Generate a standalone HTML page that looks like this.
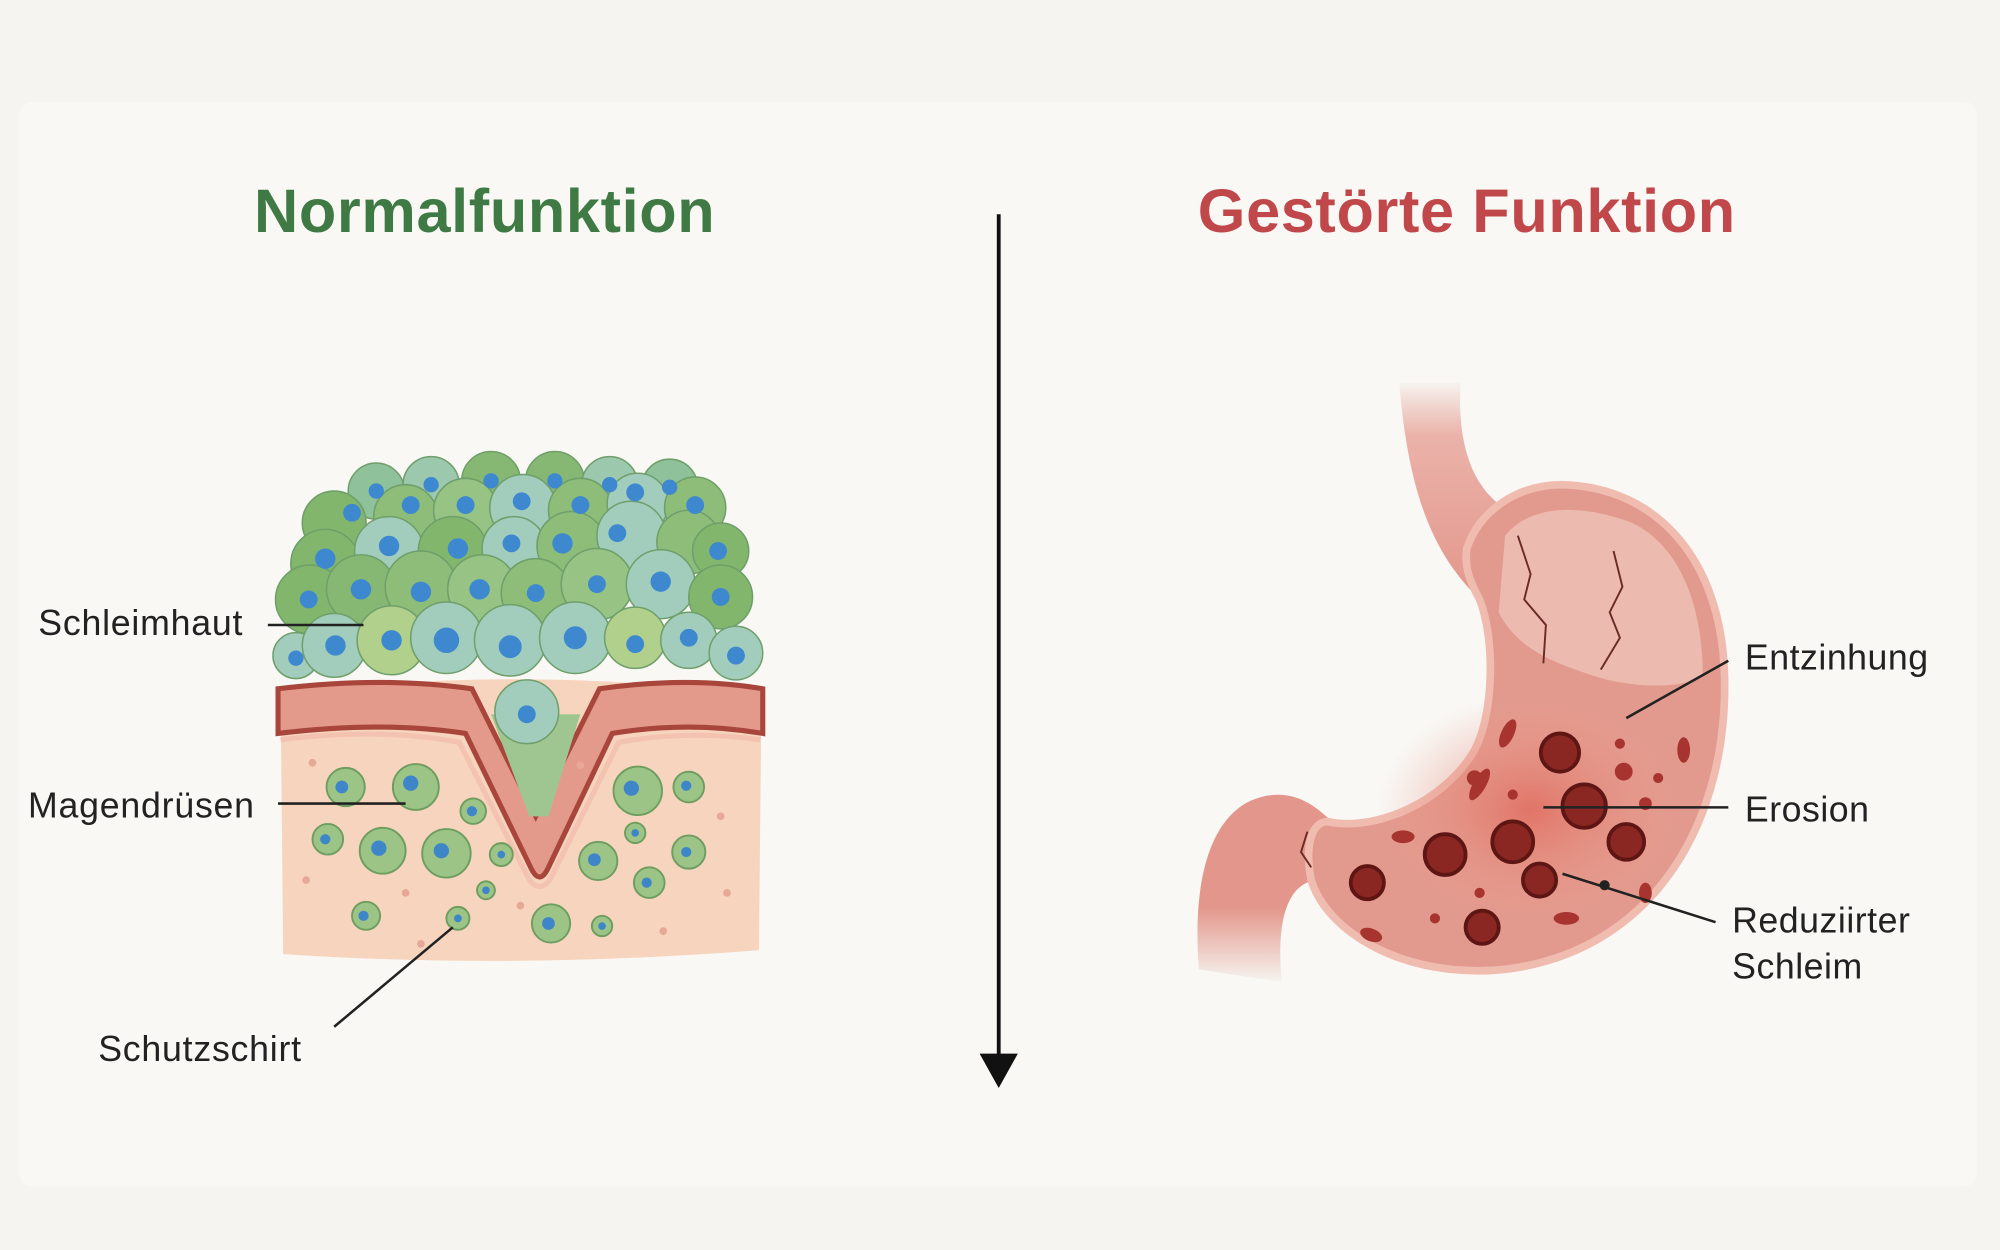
<!DOCTYPE html>
<html><head><meta charset="utf-8"><style>
html,body{margin:0;padding:0;background:#f6f4f0;}
svg{display:block;}
text{font-family:"Liberation Sans",sans-serif;}
</style></head><body>
<svg width="2000" height="1250" viewBox="0 0 1568 980" xmlns="http://www.w3.org/2000/svg">
<defs>
<radialGradient id="inf" cx="0.5" cy="0.5" r="0.5"><stop offset="0" stop-color="#e0675a" stop-opacity="0.75"/><stop offset="1" stop-color="#e8a08e" stop-opacity="0"/></radialGradient>
<linearGradient id="eso" x1="0" y1="0" x2="0" y2="1"><stop offset="0" stop-color="#f6f4f0"/><stop offset="0.25" stop-color="#e9aaa0" stop-opacity="0.9"/><stop offset="1" stop-color="#e3968b"/></linearGradient>
<linearGradient id="duo" x1="0" y1="0" x2="0" y2="1"><stop offset="0.6" stop-color="#e3968b"/><stop offset="1" stop-color="#f6f4f0"/></linearGradient>
</defs>
<rect width="1568" height="980" fill="#f6f4f0"/>
<rect x="15" y="80" width="1535" height="850" rx="10" fill="#f9f8f5"/>

<text x="380" y="182" text-anchor="middle" font-size="48" font-weight="bold" fill="#3f7a45" letter-spacing="0.5">Normalfunktion</text>
<text x="1150" y="182" text-anchor="middle" font-size="48" font-weight="bold" fill="#c0474a" letter-spacing="0.5">Gestörte Funktion</text>

<line x1="783" y1="168" x2="783" y2="830" stroke="#111" stroke-width="3"/>
<polygon points="768,826 798,826 783,853" fill="#111"/>

<!-- left tissue -->
<path d="M220,545 Q400,520 597,545 L595,745 Q400,760 222,748 Z" fill="#f7d4bd"/>
<path d="M218,540 Q300,530 370,540 L420,640 L470,540 Q540,530 598,540 L598,575 Q540,565 480,575 L430,680 Q423,695 416,680 L365,575 Q300,565 218,575 Z" fill="#e49a8a" stroke="#a8463c" stroke-width="4"/>
<path d="M220,580 Q300,570 360,582 L415,690 Q423,700 431,690 L485,582 Q540,572 596,580" fill="none" stroke="#f3c2b0" stroke-width="4"/>
<path d="M385,560 L415,640 L430,640 L455,560 Z" fill="#9fc690"/>
<g fill="#9bc486" stroke="#6e9d60" stroke-width="1.5">
<circle cx="271" cy="617" r="15"/><circle cx="326" cy="617" r="18"/><circle cx="371" cy="636" r="10"/><circle cx="500" cy="620" r="19"/><circle cx="540" cy="617" r="12"/>
<circle cx="257" cy="658" r="12"/><circle cx="300" cy="667" r="18"/><circle cx="350" cy="669" r="19"/><circle cx="393" cy="670" r="9"/><circle cx="469" cy="675" r="15"/><circle cx="498" cy="653" r="8"/><circle cx="540" cy="668" r="13"/>
<circle cx="381" cy="698" r="7"/><circle cx="509" cy="692" r="12"/><circle cx="287" cy="718" r="11"/><circle cx="359" cy="720" r="9"/><circle cx="432" cy="724" r="15"/><circle cx="472" cy="726" r="8"/>
</g>
<g fill="#3f86c8">
<circle cx="268" cy="617" r="5"/><circle cx="322" cy="614" r="6"/><circle cx="370" cy="636" r="4"/><circle cx="495" cy="618" r="6"/><circle cx="538" cy="616" r="4"/>
<circle cx="255" cy="658" r="4"/><circle cx="297" cy="665" r="6"/><circle cx="346" cy="667" r="6"/><circle cx="393" cy="670" r="3"/><circle cx="466" cy="674" r="5"/><circle cx="498" cy="653" r="3"/><circle cx="538" cy="668" r="4"/>
<circle cx="381" cy="698" r="3"/><circle cx="507" cy="692" r="4"/><circle cx="285" cy="718" r="4"/><circle cx="359" cy="720" r="3"/><circle cx="430" cy="724" r="5"/><circle cx="472" cy="726" r="3"/>
</g>
<g fill="#e8a898"><circle cx="245" cy="598" r="3"/><circle cx="240" cy="690" r="3"/><circle cx="318" cy="700" r="3"/><circle cx="408" cy="710" r="3"/><circle cx="565" cy="640" r="3"/><circle cx="570" cy="700" r="3"/><circle cx="330" cy="740" r="3"/><circle cx="520" cy="730" r="3"/><circle cx="455" cy="600" r="3"/></g>
<!-- cells -->
<g stroke="#6f9f6a" stroke-width="1.2">
<circle cx="295" cy="385" r="22" fill="#8fc19a"/><circle cx="338" cy="380" r="22" fill="#9cc9ae"/><circle cx="385" cy="377" r="23" fill="#86b873"/><circle cx="435" cy="377" r="23" fill="#86b873"/><circle cx="478" cy="380" r="22" fill="#9cc9ae"/><circle cx="525" cy="382" r="22" fill="#8fc19a"/>
<circle cx="262" cy="410" r="25" fill="#82b66d"/><circle cx="318" cy="405" r="25" fill="#8dbd79"/><circle cx="365" cy="400" r="25" fill="#97c484"/><circle cx="410" cy="398" r="26" fill="#a2cdbd"/><circle cx="455" cy="400" r="25" fill="#8dbd79"/><circle cx="500" cy="395" r="24" fill="#a2cdbd"/><circle cx="545" cy="398" r="24" fill="#8dbd79"/>
<circle cx="255" cy="442" r="27" fill="#82b66d"/><circle cx="305" cy="432" r="27" fill="#a2cdbd"/><circle cx="355" cy="432" r="27" fill="#82b66d"/><circle cx="403" cy="430" r="25" fill="#a2cdbd"/><circle cx="448" cy="428" r="27" fill="#8dbd79"/><circle cx="495" cy="420" r="27" fill="#a2cdbd"/><circle cx="540" cy="425" r="25" fill="#8dbd79"/><circle cx="565" cy="432" r="22" fill="#82b66d"/>
<circle cx="243" cy="470" r="27" fill="#82b66d"/><circle cx="283" cy="462" r="27" fill="#86b873"/><circle cx="330" cy="460" r="28" fill="#8dbd79"/><circle cx="378" cy="462" r="27" fill="#97c484"/><circle cx="420" cy="465" r="27" fill="#8dbd79"/><circle cx="468" cy="458" r="28" fill="#97c484"/><circle cx="518" cy="458" r="27" fill="#a2cdbd"/><circle cx="565" cy="468" r="25" fill="#82b66d"/>
<circle cx="232" cy="514" r="18" fill="#a2cdbd"/><circle cx="262" cy="506" r="25" fill="#a2cdbd"/><circle cx="307" cy="502" r="27" fill="#b0d08c"/><circle cx="350" cy="500" r="28" fill="#a2cdbd"/><circle cx="400" cy="502" r="28" fill="#a2cdbd"/><circle cx="451" cy="500" r="28" fill="#a2cdbd"/><circle cx="498" cy="500" r="24" fill="#b0d08c"/><circle cx="540" cy="502" r="22" fill="#a2cdbd"/><circle cx="577" cy="512" r="21" fill="#a2cdbd"/>
<circle cx="413" cy="558" r="25" fill="#a2cdbd"/>
</g>
<g fill="#3d88cf">
<circle cx="295" cy="385" r="6"/><circle cx="338" cy="380" r="6"/><circle cx="385" cy="377" r="6"/><circle cx="435" cy="377" r="6"/><circle cx="478" cy="380" r="6"/><circle cx="525" cy="382" r="6"/>
<circle cx="276" cy="402" r="7"/><circle cx="322" cy="396" r="7"/><circle cx="365" cy="396" r="7"/><circle cx="409" cy="393" r="7"/><circle cx="455" cy="396" r="7"/><circle cx="498" cy="386" r="7"/><circle cx="545" cy="396" r="7"/>
<circle cx="255" cy="438" r="8"/><circle cx="305" cy="428" r="8"/><circle cx="359" cy="430" r="8"/><circle cx="401" cy="426" r="7"/><circle cx="441" cy="426" r="8"/><circle cx="484" cy="418" r="7"/><circle cx="563" cy="432" r="7"/>
<circle cx="242" cy="470" r="7"/><circle cx="283" cy="462" r="8"/><circle cx="330" cy="464" r="8"/><circle cx="376" cy="462" r="8"/><circle cx="420" cy="465" r="7"/><circle cx="468" cy="458" r="7"/><circle cx="518" cy="456" r="8"/><circle cx="565" cy="468" r="7"/>
<circle cx="232" cy="516" r="6"/><circle cx="263" cy="506" r="8"/><circle cx="307" cy="502" r="8"/><circle cx="350" cy="502" r="10"/><circle cx="400" cy="507" r="9"/><circle cx="451" cy="500" r="9"/><circle cx="498" cy="505" r="7"/><circle cx="540" cy="500" r="7"/><circle cx="577" cy="514" r="7"/>
<circle cx="413" cy="560" r="7"/>
</g>
<g font-size="28" fill="#222" letter-spacing="0.6">
<text x="30" y="498">Schleimhaut</text>
<text x="22" y="641">Magendrüsen</text>
<text x="77" y="832">Schutzschirt</text>
</g>
<g stroke="#222" stroke-width="2">
<line x1="210" y1="490" x2="285" y2="490"/>
<line x1="218" y1="630" x2="318" y2="630"/>
<line x1="262" y1="805" x2="355" y2="727"/>
</g>

<!-- stomach -->
<path d="M1097,300 L1145,300 C1143,340 1150,375 1175,395 L1160,470 C1130,440 1105,400 1097,300 Z" fill="url(#eso)"/>
<path d="M940,760 C935,700 945,645 980,628 C1010,615 1030,630 1045,645 L1035,690 C1010,690 1000,720 1005,770 Z" fill="url(#duo)"/>
<path d="M1150,430 C1160,400 1190,380 1225,380 C1300,382 1350,440 1352,530 C1355,640 1300,745 1180,760 C1100,768 1040,730 1028,690 C1022,660 1030,640 1045,645 C1080,650 1130,630 1155,590 C1172,560 1172,500 1160,470 C1152,455 1148,445 1150,430 Z" fill="#e39a8e" stroke="#f0bcb0" stroke-width="6"/>
<path d="M1180,420 C1200,395 1240,395 1280,410 C1320,430 1335,480 1335,530 C1320,540 1280,540 1250,530 C1220,520 1190,510 1175,480 Z" fill="#edc2b6" opacity="0.8"/>
<ellipse cx="1200" cy="635" rx="120" ry="90" fill="url(#inf)"/>
<path d="M1190,420 L1200,450 L1195,470 L1212,490 L1210,520 M1265,432 L1272,460 L1262,480 L1270,500 L1255,525" fill="none" stroke="#6a2a26" stroke-width="1.5"/>
<path d="M1025,652 L1020,668 L1028,680" fill="none" stroke="#6a2a26" stroke-width="1.5"/>
<g fill="#8a2723" stroke="#5e1614" stroke-width="3">
<circle cx="1223" cy="590" r="15"/><circle cx="1242" cy="632" r="17"/><circle cx="1186" cy="660" r="16"/><circle cx="1133" cy="670" r="16"/><circle cx="1275" cy="660" r="14"/><circle cx="1072" cy="692" r="13"/><circle cx="1207" cy="690" r="13"/><circle cx="1162" cy="727" r="13"/>
</g>
<g fill="#a83430">
<circle cx="1273" cy="605" r="7"/><circle cx="1270" cy="583" r="4"/><circle cx="1156" cy="610" r="6"/><circle cx="1186" cy="623" r="4"/><circle cx="1125" cy="720" r="4"/><circle cx="1160" cy="700" r="4"/><circle cx="1290" cy="630" r="5"/><circle cx="1300" cy="610" r="4"/>
<ellipse cx="1182" cy="575" rx="5" ry="12" transform="rotate(25 1182 575)"/><ellipse cx="1160" cy="615" rx="5" ry="14" transform="rotate(30 1160 615)"/><ellipse cx="1100" cy="656" rx="9" ry="5"/><ellipse cx="1075" cy="733" rx="9" ry="5" transform="rotate(20 1075 733)"/><ellipse cx="1228" cy="720" rx="10" ry="5"/><ellipse cx="1320" cy="588" rx="5" ry="10"/><ellipse cx="1290" cy="700" rx="5" ry="8"/>
</g>
<g font-size="28" fill="#222" letter-spacing="0.4">
<text x="1368" y="525">Entzinhung</text>
<text x="1368" y="644">Erosion</text>
<text x="1358" y="731">Reduziirter</text>
<text x="1358" y="767">Schleim</text>
</g>
<g stroke="#222" stroke-width="2">
<line x1="1355" y1="518" x2="1275" y2="563"/>
<line x1="1210" y1="633" x2="1355" y2="633"/>
<line x1="1225" y1="685" x2="1345" y2="723"/>
</g>
<circle cx="1258" cy="694" r="4" fill="#222"/>
</svg>
</body></html>
